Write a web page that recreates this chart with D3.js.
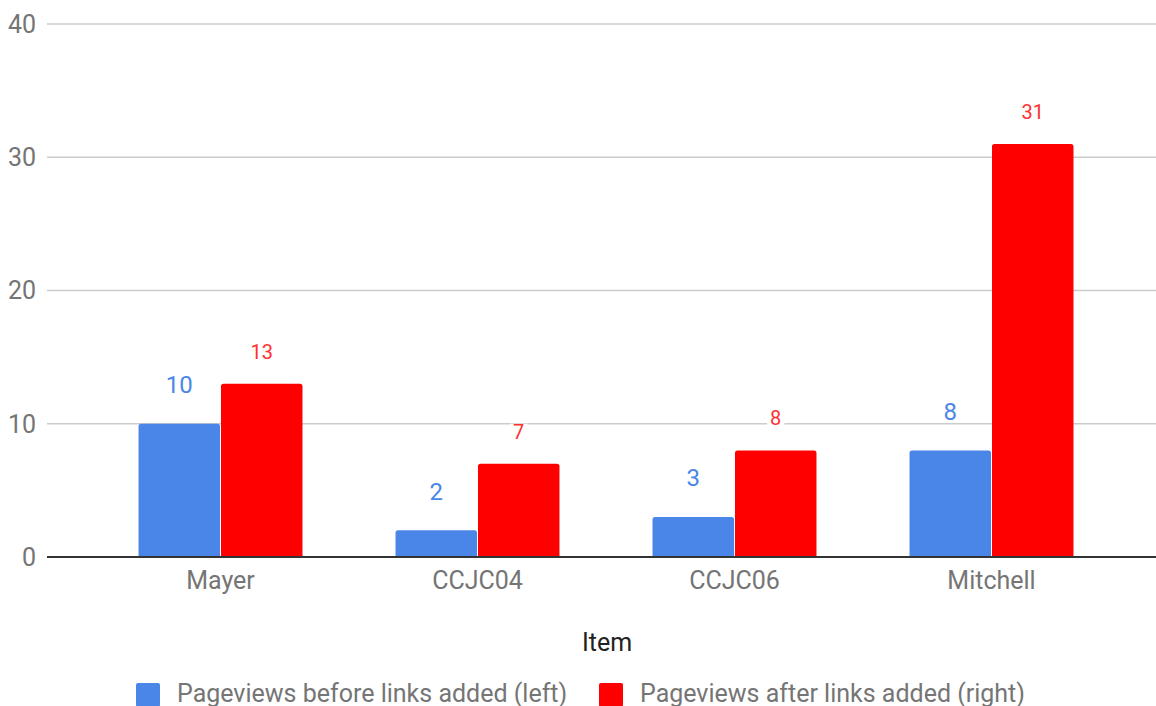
<!DOCTYPE html>
<html><head><meta charset="utf-8">
<script src="https://cdn.jsdelivr.net/npm/d3@7"></script>
<style>body{margin:0;background:#fff;}svg{display:block;font-family:Roboto,"Noto Sans",sans-serif;}</style>
</head><body>
<svg id="c" width="1156" height="706"></svg>
<script>
const categories = ["Mayer", "CCJC04", "CCJC06", "Mitchell"];
const seriesNames = ["Pageviews before links added (left)", "Pageviews after links added (right)"];
const before = [10, 2, 3, 8];
const after = [13, 7, 8, 31];
const yTicks = [0, 10, 20, 30, 40];
const colors = ["#4a86e8", "#ff0000"];

const svg = d3.select("#c");
const y = d3.scaleLinear().domain([0, 40]).range([557, 24]);
const x0 = d3.scaleBand().domain(categories).range([92, 1120]).paddingInner(0.362).paddingOuter(0.181);
const x1 = d3.scaleBand().domain([0, 1]).range([0, x0.bandwidth()]).paddingInner(0.012);

// gridlines
svg.append("g").selectAll("line").data(yTicks.filter(d => d > 0)).join("line")
  .attr("x1", 47).attr("x2", 1156).attr("y1", d => y(d)).attr("y2", d => y(d))
  .attr("stroke", "#cccccc").attr("stroke-width", 1.5);

// y tick labels
svg.append("g").selectAll("text").data(yTicks).join("text")
  .attr("x", 36).attr("y", d => y(d)).attr("dy", "0.35em").attr("text-anchor", "end")
  .attr("font-size", 25).attr("fill", "#757575").text(d => d);

const data = categories.map((c, i) => ({cat: c, vals: [before[i], after[i]]}));

function roundTop(x, yTop, w, h, r) {
  r = Math.min(r, h);
  return `M${x},${yTop + h}V${yTop + r}Q${x},${yTop} ${x + r},${yTop}H${x + w - r}Q${x + w},${yTop} ${x + w},${yTop + r}V${yTop + h}Z`;
}

const groups = svg.append("g").selectAll("g").data(data).join("g")
  .attr("transform", d => `translate(${x0(d.cat)},0)`);

groups.selectAll("path").data(d => d.vals.map((v, k) => ({v, k}))).join("path")
  .attr("d", d => roundTop(x1(d.k), y(d.v), x1.bandwidth(), y(0) - y(d.v), 2.5))
  .attr("fill", d => colors[d.k]);

// value labels with white background
groups.each(function(d) {
  const g = d3.select(this);
  d.vals.forEach((v, k) => {
    const cx = x1(k) + x1.bandwidth() / 2;
    const fs = k === 0 ? 24 : 20;
    const cy = y(v) - (k === 0 ? 39 : 32);
    const t = g.append("text").attr("x", cx).attr("y", cy).attr("dy", "0.35em")
      .attr("text-anchor", "middle").attr("font-size", fs)
      .attr("fill", k === 0 ? "#4a86e8" : "#ff3030").text(v);
    const bb = t.node().getBBox();
    const h = fs * 0.8;
    g.insert("rect", "text").attr("x", bb.x - 3).attr("y", cy - h / 2).attr("width", bb.width + 6)
      .attr("height", h).attr("fill", "#fff");
  });
});

// baseline
svg.append("line").attr("x1", 47).attr("x2", 1156).attr("y1", y(0)).attr("y2", y(0))
  .attr("stroke", "#333333").attr("stroke-width", 2);

// x labels
svg.append("g").selectAll("text").data(categories).join("text")
  .attr("x", d => x0(d) + x0.bandwidth() / 2).attr("y", 580).attr("dy", "0.35em")
  .attr("text-anchor", "middle").attr("font-size", 25).attr("fill", "#757575").text(d => d);

// axis title
svg.append("text").attr("x", 607).attr("y", 642).attr("dy", "0.35em").attr("text-anchor", "middle")
  .attr("font-size", 25).attr("fill", "#222").text("Item");

// legend
const legX = [136, 599];
const leg = svg.append("g").selectAll("g").data(seriesNames).join("g")
  .attr("transform", (d, i) => `translate(${legX[i]},683)`);
leg.append("rect").attr("width", 24).attr("height", 24).attr("rx", 2).attr("fill", (d, i) => colors[i]);
leg.append("text").attr("x", 41).attr("y", 10).attr("dy", "0.35em").attr("font-size", 25)
  .attr("fill", "#757575").text(d => d);
</script>
</body></html>
